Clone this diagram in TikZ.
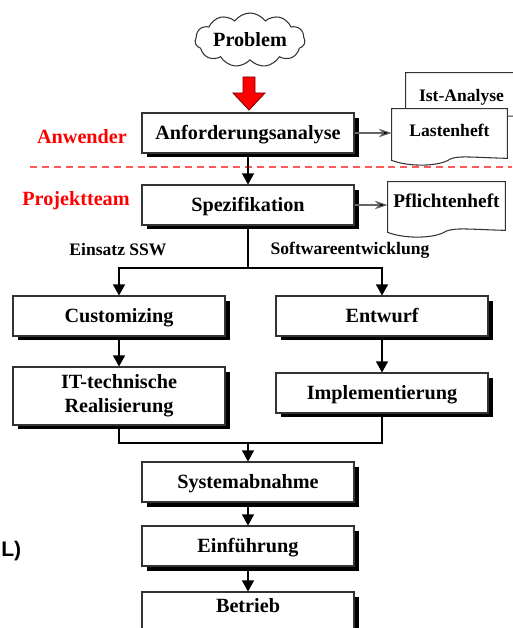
\documentclass[tikz,border=0pt]{standalone}
\usepackage{fontspec}
\setmainfont{Liberation Serif}
\setsansfont{Liberation Sans}
\usetikzlibrary{positioning, arrows.meta, calc, shadows, shapes.symbols, backgrounds}

% outline of a sheet with a wavy lower edge round a named node
\newcommand{\docoutline}[1]{%
  \draw[docline] (#1.south west) -- (#1.north west) -- (#1.north east)
    -- ($(#1.south east)+(0,-2)$)
    .. controls ($(#1.south east)+(-37,-3)$) and ($(#1.south east)+(-50,-5)$)
    .. ($(#1.south west)+(58,-1)$)
    .. controls ($(#1.south west)+(48,6)$) and ($(#1.south west)+(18,7)$)
    .. (#1.south west) -- cycle;}

\begin{document}
\begin{tikzpicture}[
    x=0.02cm, y=-0.02cm,
    >={Triangle[width=0.24cm, length=0.22cm]},
    phase/.style={
        draw=black!80, line width=0.6pt, fill=white,
        minimum width=4.24cm, minimum height=0.8cm,
        text height=0.72em, text depth=0pt,
        font=\fontsize{11.5}{13.5}\selectfont\bfseries, align=center,
        drop shadow={shadow xshift=0.1cm, shadow yshift=-0.09cm, fill=black, opacity=1}
    },
    docnode/.style={
        minimum width=2.3cm, minimum height=1.02cm, inner sep=0pt,
        text height=0.72em, text depth=0.5em,
        font=\fontsize{10}{12}\selectfont\bfseries
    },
    docline/.style={draw=black!80, line width=0.6pt, fill=white},
    line/.style={line width=0.6pt},
    arr/.style={->, line width=0.6pt},
    docarr/.style={-{Stealth[length=0.26cm, width=0.17cm, fill=black]}, line width=0.6pt, draw=black!60},
    role/.style={text=red, font=\fontsize{11.5}{13.5}\selectfont\bfseries},
    branch/.style={font=\fontsize{10}{12}\selectfont\bfseries},
    sep/.style={draw=red!65, line width=0.6pt, dash pattern=on 4pt off 2.8pt}
]
    \useasboundingbox (0,0) rectangle (512,628);

    % start
    \node[cloud, cloud ignores aspect, cloud puffs=11, cloud puff arc=110,
          draw=black!80, line width=0.6pt, minimum width=2.2cm, minimum height=1.08cm,
          inner sep=0pt, font=\fontsize{11.5}{13.5}\selectfont\bfseries] (problem) at (250,40) {Problem};
    \filldraw[fill=red, draw=red!50!black, line width=0.5pt]
        (243,77) -- (255,77) -- (255,93) -- (265,93) -- (249,110) -- (233,93) -- (243,93) -- cycle;

    % roles
    \node[role] (anw) at (82,137) {Anwender};
    \node[role] (proj) at (76,201) {Projektteam};
    \draw[sep] (30,167) -- (512,167);

    % phases
    \node[phase] (anf) at (248,133) {Anforderungsanalyse};
    \node[phase] (spez) at (248,205) {Spezifikation};
    \node[phase] (cust) at (119,316) {Customizing};
    \node[phase] (entw) at (382,316) {Entwurf};
    \node[phase, text height={}, text depth={}, minimum height=1.16cm] (real) at (119,396) {IT-technische\\Realisierung};
    \node[phase] (impl) at (382,393) {Implementierung};
    \node[phase] (abn) at (248,482) {Systemabnahme};
    \node[phase] (einf) at (248,546) {Einführung};
    \node[phase, text depth=0.7em] (betr) at (248,612) {Betrieb};

    \node[branch] (ssw) at (118,250) {Einsatz SSW};
    \node[branch] (swe) at (350,250) {Softwareentwicklung};
    \node[font=\sffamily\bfseries\fontsize{12}{14}\selectfont, anchor=west, inner sep=0pt] (cut) at (1,551) {L)};

    % documents
    \node[docnode, minimum width=2.22cm, minimum height=0.9cm, text depth=0pt] (ist) at (461.5,95.5) {Ist-Analyse};
    \node[docnode] (last) at (449.5,134.5) {Lastenheft};
    \node[docnode, minimum width=2.34cm, minimum height=1cm, text depth=0.65em,
          font=\fontsize{11}{13}\selectfont\bfseries] (pfl) at (446.5,207) {Pflichtenheft};
    \begin{scope}[on background layer]
        \docoutline{ist}
        \docoutline{last}
        \docoutline{pfl}
    \end{scope}

    % connectors
    \draw[docarr] (anf.east) -- (anf.east -| last.west);
    \draw[docarr] (spez.east) -- (spez.east -| pfl.west);
    \draw[arr] (anf) -- (spez);
    \coordinate (split) at (248,268);
    \draw[line] (spez) -- (split);
    \draw[arr] (split) -| (cust);
    \draw[arr] (split) -| (entw);
    \draw[arr] (cust) -- (real);
    \draw[arr] (entw) -- (impl);
    \coordinate (merge) at (248,443);
    \draw[line] (real) |- (merge) -| (impl);
    \draw[arr] (merge) -- (abn);
    \draw[arr] (abn) -- (einf);
    \draw[arr] (einf) -- (betr);
\end{tikzpicture}
\end{document}
